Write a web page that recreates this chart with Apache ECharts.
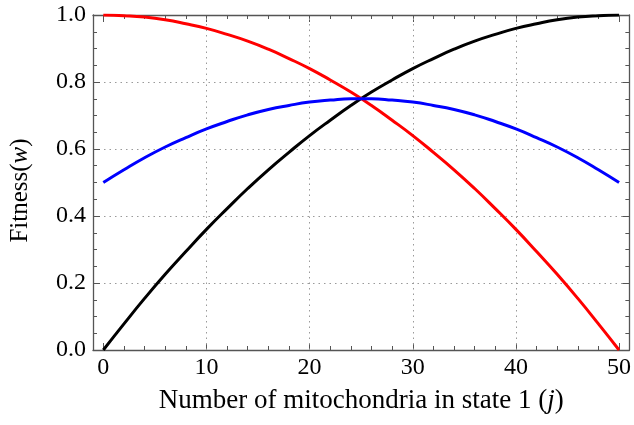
<!DOCTYPE html>
<html>
<head>
<meta charset="utf-8">
<script src="https://cdn.jsdelivr.net/npm/echarts@6/dist/echarts.min.js"></script>
<style>
  html, body { margin: 0; padding: 0; background: #fff; }
  #chart { width: 634px; height: 425px; }
</style>
</head>
<body>
<div id="chart"></div>
<script>
// Number of mitochondria in state 1 (j)
const j = [0, 2, 4, 6, 8, 10, 12, 14, 16, 18, 20, 22, 24, 26, 28, 30, 32, 34, 36, 38, 40, 42, 44, 46, 48, 50];

// Fitness curves
const fitnessBlack = [0.000, 0.078, 0.154, 0.226, 0.294, 0.360, 0.422, 0.482, 0.538, 0.590, 0.640, 0.686, 0.730,
                      0.770, 0.806, 0.840, 0.870, 0.898, 0.922, 0.942, 0.960, 0.974, 0.986, 0.994, 0.998, 1.000];
const fitnessRed   = [1.000, 0.998, 0.994, 0.986, 0.974, 0.960, 0.942, 0.922, 0.898, 0.870, 0.840, 0.806, 0.770,
                      0.730, 0.686, 0.640, 0.590, 0.538, 0.482, 0.422, 0.360, 0.294, 0.226, 0.154, 0.078, 0.000];
const fitnessBlue  = [0.500, 0.538, 0.574, 0.606, 0.634, 0.660, 0.682, 0.702, 0.718, 0.730, 0.740, 0.746, 0.750,
                      0.750, 0.746, 0.740, 0.730, 0.718, 0.702, 0.682, 0.660, 0.634, 0.606, 0.574, 0.538, 0.500];

// Tick positions
const xMajorTicks = [0, 10, 20, 30, 40, 50];
const xMinorTicks = [2, 4, 6, 8, 12, 14, 16, 18, 22, 24, 26, 28, 32, 34, 36, 38, 42, 44, 46, 48];
const xGridLines = [10, 20, 30, 40];

const FONT = '"Liberation Serif", "DejaVu Serif", serif';
const FRAME = '#555555';
const GRID = '#9a9a9a';

const pairs = ys => j.map((x, i) => [x, ys[i]]);

function xAxisDef(position, ticks, len, showLine, showLabel) {
  return {
    type: 'value', position: position, min: -1, max: 51,
    axisLine: { show: showLine, onZero: false, lineStyle: { color: FRAME, width: 1.3 } },
    axisTick: { show: true, inside: true, length: len, customValues: ticks, lineStyle: { color: FRAME, width: 1 } },
    axisLabel: showLabel
      ? { show: true, customValues: ticks, margin: 6, color: '#000', fontFamily: FONT, fontSize: 24 }
      : { show: false },
    splitLine: { show: false }
  };
}

function yAxisDef(position, showLabel) {
  return {
    type: 'value', position: position, min: 0, max: 1, interval: 0.2,
    axisLine: { show: true, onZero: false, lineStyle: { color: FRAME, width: 1.3 } },
    axisTick: { show: true, inside: true, length: 7, lineStyle: { color: FRAME, width: 1 } },
    minorTick: { show: true, splitNumber: 4, length: 4, lineStyle: { color: FRAME, width: 1 } },
    axisLabel: showLabel
      ? { show: true, margin: 7, color: '#000', fontFamily: FONT, fontSize: 24, formatter: v => v.toFixed(1) }
      : { show: false },
    splitLine: showLabel
      ? { show: true, lineStyle: { color: GRID, width: 1, type: [1.5, 4] } }
      : { show: false }
  };
}

const titleStyle = (size, padding) => ({
  padding: padding,
  rich: {
    r: { fontFamily: FONT, fontSize: size, color: '#000' },
    i: { fontFamily: FONT, fontSize: size, fontStyle: 'italic', color: '#000' }
  }
});

const chart = echarts.init(document.getElementById('chart'), null, { renderer: 'canvas' });

const xMain = xAxisDef('bottom', xMajorTicks, 7, true, true);
xMain.name = '{r|Number of mitochondria in state 1 (}{i|j}{r|)}';
xMain.nameLocation = 'middle';
xMain.nameGap = 37;
xMain.nameTextStyle = titleStyle(27, [0, 0, 0, 0]);

const yMain = yAxisDef('left', true);
yMain.name = '{r|Fitness(}{i|w}{r|)}';
yMain.nameLocation = 'middle';
yMain.nameGap = 60;
// extra space at the top end of the rotated title nudges it a little lower
yMain.nameTextStyle = titleStyle(25, [0, 16, 0, 0]);

const lineSeries = (data, color) => ({
  type: 'line', xAxisIndex: 0, yAxisIndex: 0, data: pairs(data),
  smooth: true, showSymbol: false, symbol: 'none', silent: true,
  lineStyle: { color: color, width: 3 }, z: 5
});

chart.setOption({
  animation: false,
  backgroundColor: '#fff',
  grid: { left: 90, right: 3, top: 15, bottom: 75 },
  xAxis: [
    xMain,
    xAxisDef('bottom', xMinorTicks, 4, false, false),
    xAxisDef('top', xMajorTicks, 7, true, false),
    xAxisDef('top', xMinorTicks, 4, false, false)
  ],
  yAxis: [yMain, yAxisDef('right', false)],
  series: [
    {
      type: 'line', xAxisIndex: 0, yAxisIndex: 0, data: [], silent: true, z: 1,
      markLine: {
        silent: true, symbol: 'none', label: { show: false },
        lineStyle: { color: GRID, width: 1, type: [1.5, 4] },
        data: xGridLines.map(v => ({ xAxis: v }))
      }
    },
    lineSeries(fitnessBlack, '#000000'),
    lineSeries(fitnessRed, '#ff0000'),
    lineSeries(fitnessBlue, '#0000ff')
  ]
});
</script>
</body>
</html>
